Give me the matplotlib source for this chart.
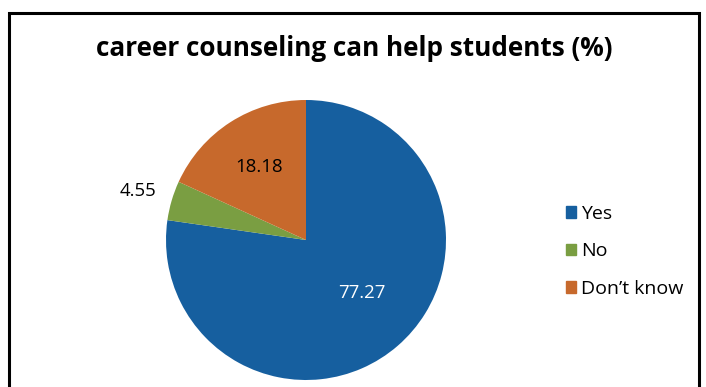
import matplotlib
matplotlib.use("Agg")
import matplotlib.pyplot as plt
import numpy as np
from matplotlib.patches import Rectangle

categories = ["Yes", "No", "Don\u2019t know"]
values = [77.27, 4.55, 18.18]
colors = ["#165F9F", "#7A9E42", "#C7692C"]
label_colors = ["white", "black", "black"]
# radial position of each value label and angular nudge (degrees)
label_radius = [0.55, 1.25, 0.62]
label_nudge = [6, 0, 0]

W, H = 706, 387
fig = plt.figure(figsize=(W / 100, H / 100), dpi=100)
plt.rcParams['font.family'] = ['Open Sans', 'DejaVu Sans']

# outer frame
fig.patches.append(Rectangle((9 / W, -0.05), (699 - 9) / W, (H - 13) / H + 0.05,
                             transform=fig.transFigure, fill=False,
                             edgecolor="black", linewidth=2.2))

fig.text(354 / W, 1 - 49 / H, "career counseling can help students (%)",
         ha="center", va="center", fontsize=18.8, fontweight="bold")

cx, cy, r = 306, 240, 140
ax = fig.add_axes([(cx - r) / W, (H - cy - r) / H, 2 * r / W, 2 * r / H])
wedges, _ = ax.pie(values, colors=colors, startangle=90, counterclock=False,
                   radius=1.0, wedgeprops=dict(linewidth=0))
ax.set_xlim(-1, 1)
ax.set_ylim(-1, 1)
ax.set_aspect("auto")
ax.axis("off")

for w, v, c, rr, dn in zip(wedges, values, label_colors, label_radius, label_nudge):
    mid = np.deg2rad((w.theta1 + w.theta2) / 2 + dn)
    ax.text(rr * np.cos(mid), rr * np.sin(mid), f"{v:.2f}", color=c,
            ha="center", va="center", fontsize=13.4, clip_on=False)

handles = [Rectangle((0, 0), 1, 1, color=c) for c in colors]
leg = fig.legend(handles, categories, loc="upper left",
                 bbox_to_anchor=(566 / W, 1 - 205 / H), frameon=False,
                 fontsize=14, handlelength=0.52, handleheight=0.52,
                 handletextpad=0.25, labelspacing=1.0, borderaxespad=0,
                 borderpad=0)

fig.savefig("out.png", dpi=100)
